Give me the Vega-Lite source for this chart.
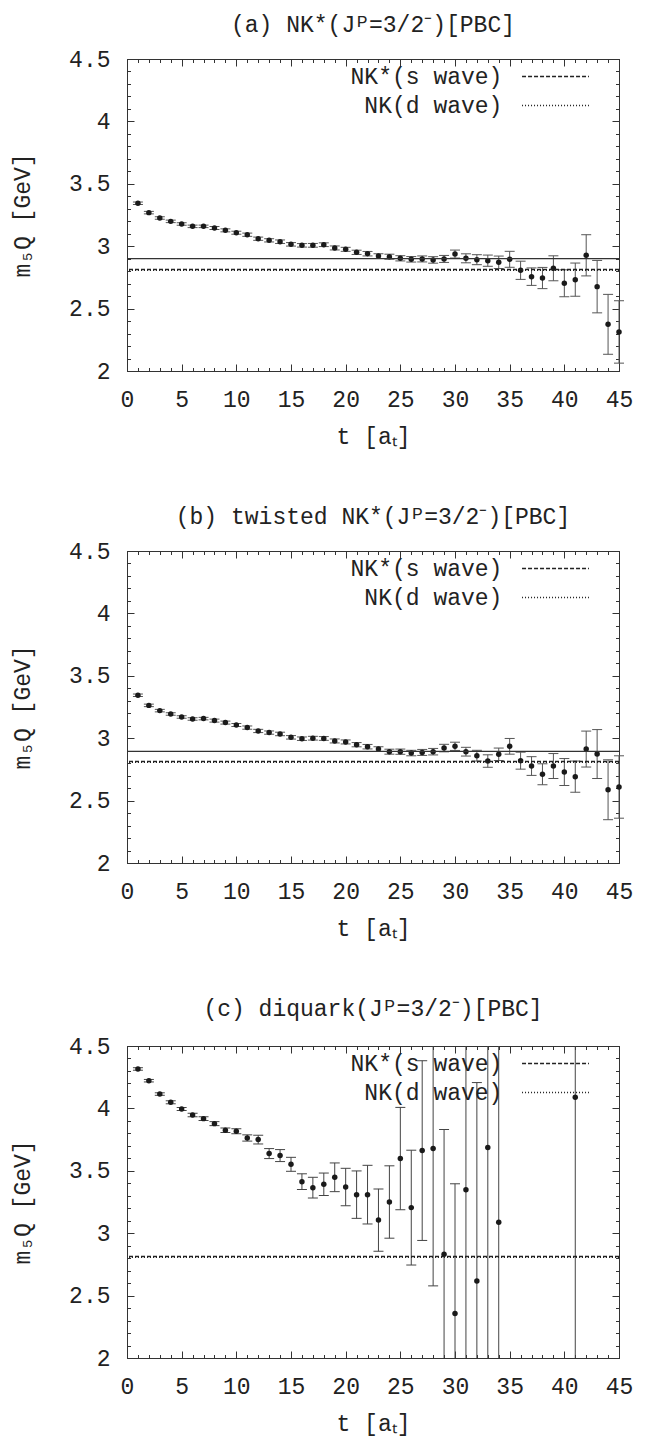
{
  "$schema": "https://vega.github.io/schema/vega-lite/v6.json",
  "padding": {"left": 11, "top": 13, "right": 5, "bottom": 2},
  "spacing": 56,
  "background": "white",
  "datasets": {
    "a": [
      {"t":1,"m":3.344,"lo":3.334,"hi":3.354},{"t":2,"m":3.269,"lo":3.259,"hi":3.279},{"t":3,"m":3.226,"lo":3.216,"hi":3.236},
      {"t":4,"m":3.199,"lo":3.189,"hi":3.209},{"t":5,"m":3.178,"lo":3.168,"hi":3.188},{"t":6,"m":3.159,"lo":3.149,"hi":3.169},
      {"t":7,"m":3.159,"lo":3.149,"hi":3.169},{"t":8,"m":3.146,"lo":3.134,"hi":3.158},{"t":9,"m":3.127,"lo":3.115,"hi":3.139},
      {"t":10,"m":3.108,"lo":3.096,"hi":3.120},{"t":11,"m":3.092,"lo":3.079,"hi":3.105},{"t":12,"m":3.060,"lo":3.047,"hi":3.073},
      {"t":13,"m":3.047,"lo":3.034,"hi":3.060},{"t":14,"m":3.036,"lo":3.022,"hi":3.050},{"t":15,"m":3.015,"lo":3.001,"hi":3.029},
      {"t":16,"m":3.007,"lo":2.993,"hi":3.021},{"t":17,"m":3.007,"lo":2.992,"hi":3.022},{"t":18,"m":3.012,"lo":2.997,"hi":3.027},
      {"t":19,"m":2.986,"lo":2.970,"hi":3.002},{"t":20,"m":2.975,"lo":2.959,"hi":2.991},{"t":21,"m":2.951,"lo":2.934,"hi":2.968},
      {"t":22,"m":2.940,"lo":2.922,"hi":2.958},{"t":23,"m":2.921,"lo":2.902,"hi":2.940},{"t":24,"m":2.916,"lo":2.896,"hi":2.936},
      {"t":25,"m":2.903,"lo":2.882,"hi":2.924},{"t":26,"m":2.895,"lo":2.873,"hi":2.917},{"t":27,"m":2.898,"lo":2.874,"hi":2.922},
      {"t":28,"m":2.890,"lo":2.864,"hi":2.916},{"t":29,"m":2.898,"lo":2.870,"hi":2.926},{"t":30,"m":2.937,"lo":2.905,"hi":2.969},
      {"t":31,"m":2.903,"lo":2.867,"hi":2.939},{"t":32,"m":2.892,"lo":2.852,"hi":2.932},{"t":33,"m":2.884,"lo":2.839,"hi":2.929},
      {"t":34,"m":2.871,"lo":2.821,"hi":2.921},{"t":35,"m":2.895,"lo":2.831,"hi":2.959},{"t":36,"m":2.807,"lo":2.734,"hi":2.880},
      {"t":37,"m":2.756,"lo":2.686,"hi":2.826},{"t":38,"m":2.745,"lo":2.660,"hi":2.830},{"t":39,"m":2.823,"lo":2.723,"hi":2.923},
      {"t":40,"m":2.703,"lo":2.595,"hi":2.811},{"t":41,"m":2.732,"lo":2.599,"hi":2.865},{"t":42,"m":2.927,"lo":2.762,"hi":3.092},
      {"t":43,"m":2.676,"lo":2.466,"hi":2.886},{"t":44,"m":2.374,"lo":2.134,"hi":2.614},{"t":45,"m":2.313,"lo":2.063,"hi":2.563}
    ],
    "b": [
      {"t":1,"m":3.344,"lo":3.334,"hi":3.354},{"t":2,"m":3.263,"lo":3.253,"hi":3.273},{"t":3,"m":3.221,"lo":3.211,"hi":3.231},
      {"t":4,"m":3.194,"lo":3.184,"hi":3.204},{"t":5,"m":3.170,"lo":3.160,"hi":3.180},{"t":6,"m":3.154,"lo":3.144,"hi":3.164},
      {"t":7,"m":3.157,"lo":3.147,"hi":3.167},{"t":8,"m":3.141,"lo":3.129,"hi":3.153},{"t":9,"m":3.125,"lo":3.113,"hi":3.137},
      {"t":10,"m":3.106,"lo":3.094,"hi":3.118},{"t":11,"m":3.085,"lo":3.072,"hi":3.098},{"t":12,"m":3.058,"lo":3.045,"hi":3.071},
      {"t":13,"m":3.045,"lo":3.032,"hi":3.058},{"t":14,"m":3.034,"lo":3.020,"hi":3.048},{"t":15,"m":3.007,"lo":2.993,"hi":3.021},
      {"t":16,"m":2.996,"lo":2.982,"hi":3.010},{"t":17,"m":3.000,"lo":2.985,"hi":3.015},{"t":18,"m":2.998,"lo":2.983,"hi":3.013},
      {"t":19,"m":2.978,"lo":2.962,"hi":2.994},{"t":20,"m":2.970,"lo":2.954,"hi":2.986},{"t":21,"m":2.948,"lo":2.931,"hi":2.965},
      {"t":22,"m":2.932,"lo":2.914,"hi":2.950},{"t":23,"m":2.913,"lo":2.894,"hi":2.932},{"t":24,"m":2.892,"lo":2.872,"hi":2.912},
      {"t":25,"m":2.892,"lo":2.871,"hi":2.913},{"t":26,"m":2.881,"lo":2.859,"hi":2.903},{"t":27,"m":2.886,"lo":2.862,"hi":2.910},
      {"t":28,"m":2.892,"lo":2.866,"hi":2.918},{"t":29,"m":2.921,"lo":2.891,"hi":2.951},{"t":30,"m":2.935,"lo":2.902,"hi":2.968},
      {"t":31,"m":2.892,"lo":2.857,"hi":2.927},{"t":32,"m":2.860,"lo":2.817,"hi":2.903},{"t":33,"m":2.817,"lo":2.767,"hi":2.867},
      {"t":34,"m":2.871,"lo":2.821,"hi":2.921},{"t":35,"m":2.935,"lo":2.872,"hi":2.998},{"t":36,"m":2.820,"lo":2.752,"hi":2.888},
      {"t":37,"m":2.777,"lo":2.702,"hi":2.852},{"t":38,"m":2.711,"lo":2.627,"hi":2.795},{"t":39,"m":2.777,"lo":2.677,"hi":2.877},
      {"t":40,"m":2.729,"lo":2.621,"hi":2.837},{"t":41,"m":2.692,"lo":2.567,"hi":2.817},{"t":42,"m":2.913,"lo":2.769,"hi":3.057},
      {"t":43,"m":2.873,"lo":2.677,"hi":3.069},{"t":44,"m":2.587,"lo":2.347,"hi":2.827},{"t":45,"m":2.609,"lo":2.359,"hi":2.859}
    ],
    "c": [
      {"t":1,"m":4.316,"lo":4.306,"hi":4.326},{"t":2,"m":4.222,"lo":4.212,"hi":4.232},{"t":3,"m":4.115,"lo":4.105,"hi":4.125},
      {"t":4,"m":4.049,"lo":4.037,"hi":4.061},{"t":5,"m":3.995,"lo":3.983,"hi":4.007},{"t":6,"m":3.947,"lo":3.933,"hi":3.961},
      {"t":7,"m":3.918,"lo":3.903,"hi":3.933},{"t":8,"m":3.878,"lo":3.862,"hi":3.894},{"t":9,"m":3.825,"lo":3.807,"hi":3.843},
      {"t":10,"m":3.817,"lo":3.797,"hi":3.837},{"t":11,"m":3.763,"lo":3.738,"hi":3.788},{"t":12,"m":3.750,"lo":3.715,"hi":3.785},
      {"t":13,"m":3.638,"lo":3.598,"hi":3.678},{"t":14,"m":3.622,"lo":3.574,"hi":3.670},{"t":15,"m":3.552,"lo":3.496,"hi":3.608},
      {"t":16,"m":3.413,"lo":3.350,"hi":3.476},{"t":17,"m":3.365,"lo":3.282,"hi":3.448},{"t":18,"m":3.392,"lo":3.302,"hi":3.482},
      {"t":19,"m":3.448,"lo":3.333,"hi":3.563},{"t":20,"m":3.370,"lo":3.220,"hi":3.520},{"t":21,"m":3.309,"lo":3.119,"hi":3.499},
      {"t":22,"m":3.309,"lo":3.074,"hi":3.544},{"t":23,"m":3.105,"lo":2.855,"hi":3.355},{"t":24,"m":3.250,"lo":2.960,"hi":3.540},
      {"t":25,"m":3.598,"lo":3.188,"hi":4.008},{"t":26,"m":3.205,"lo":2.745,"hi":3.665},{"t":27,"m":3.662,"lo":2.942,"hi":4.382},
      {"t":28,"m":3.678,"lo":2.578,"hi":4.778},{"t":29,"m":2.831,"lo":1.831,"hi":3.831},{"t":30,"m":2.356,"lo":1.316,"hi":3.396},
      {"t":31,"m":3.349,"lo":1.749,"hi":4.949},{"t":32,"m":2.617,"lo":1.027,"hi":4.207},{"t":33,"m":3.686,"lo":1.886,"hi":5.486},
      {"t":34,"m":3.087,"lo":1.487,"hi":4.687},{"t":41,"m":4.089,"lo":1.589,"hi":6.589}
    ],
    "refs": [
      {"panel":"a","name":"NK*(s wave)","m":2.813},{"panel":"a","name":"NK(d wave)","m":2.807},
      {"panel":"b","name":"NK*(s wave)","m":2.813},{"panel":"b","name":"NK(d wave)","m":2.807},
      {"panel":"c","name":"NK*(s wave)","m":2.813},{"panel":"c","name":"NK(d wave)","m":2.807}
    ],
    "fits": [
      {"panel":"a","m":2.900},{"panel":"b","m":2.895}
    ]
  },
  "resolve": {"legend": {"strokeDash": "independent"}, "scale": {"strokeDash": "independent"}},
  "vconcat": [
    {
      "width": 492, "height": 312,
      "title": {"text": "(a) NK*(Jᴾ=3/2⁻)[PBC]", "offset": 11},
      "data": {"name": "a"},
      "resolve": {"axis": {"x": "independent", "y": "independent"}},
      "layer": [
        {"mark": {"type": "rule", "color": "#555", "strokeWidth": 1},
         "encoding": {
           "x": {"field": "t", "type": "quantitative", "scale": {"domain": [0,45], "nice": false}, "axis": {"orient": "top", "values": [0,5,10,15,20,25,30,35,40,45], "tickSize": -7, "labels": false, "title": null}},
           "y": {"field": "lo", "type": "quantitative", "scale": {"domain": [2,4.5], "nice": false, "zero": false}, "axis": {"orient": "right", "values": [2,2.5,3,3.5,4,4.5], "tickSize": -7, "labels": false, "title": null}},
           "y2": {"field": "hi"}}},
        {"mark": {"type": "tick", "orient": "horizontal", "size": 10, "thickness": 1, "color": "#555", "opacity": 1},
         "encoding": {
           "x": {"field": "t", "type": "quantitative", "axis": {"orient": "top", "values": [0,1,2,3,4,5,6,7,8,9,10,11,12,13,14,15,16,17,18,19,20,21,22,23,24,25,26,27,28,29,30,31,32,33,34,35,36,37,38,39,40,41,42,43,44,45], "tickSize": -3.5, "labels": false, "title": null}},
           "y": {"field": "hi", "type": "quantitative", "axis": {"orient": "right", "values": [2,2.1,2.2,2.3,2.4,2.5,2.6,2.7,2.8,2.9,3,3.1,3.2,3.3,3.4,3.5,3.6,3.7,3.8,3.9,4,4.1,4.2,4.3,4.4,4.5], "tickSize": -3.5, "labels": false, "title": null}}}},
        {"mark": {"type": "tick", "orient": "horizontal", "size": 10, "thickness": 1, "color": "#555", "opacity": 1},
         "encoding": {
           "x": {"field": "t", "type": "quantitative", "axis": {"orient": "bottom", "values": [0,1,2,3,4,5,6,7,8,9,10,11,12,13,14,15,16,17,18,19,20,21,22,23,24,25,26,27,28,29,30,31,32,33,34,35,36,37,38,39,40,41,42,43,44,45], "tickSize": -3.5, "labels": false, "title": null}},
           "y": {"field": "lo", "type": "quantitative", "axis": {"orient": "left", "values": [2,2.1,2.2,2.3,2.4,2.5,2.6,2.7,2.8,2.9,3,3.1,3.2,3.3,3.4,3.5,3.6,3.7,3.8,3.9,4,4.1,4.2,4.3,4.4,4.5], "tickSize": -3.5, "labels": false, "title": null}}}},
        {"mark": {"type": "point", "filled": true, "shape": "circle", "size": 30, "color": "#1a1a1a", "opacity": 1},
         "encoding": {
           "x": {"field": "t", "type": "quantitative", "axis": {"orient": "bottom", "values": [0,5,10,15,20,25,30,35,40,45], "tickSize": -7, "labelPadding": 24, "title": "t [aₜ]", "titlePadding": 14}},
           "y": {"field": "m", "type": "quantitative", "axis": {"orient": "left", "values": [2,2.5,3,3.5,4,4.5], "format": "~g", "tickSize": -7, "labelPadding": 24, "title": "m₅Q  [GeV]", "titlePadding": 34}}}},
        {"data": {"name": "fits"}, "transform": [{"filter": {"field": "panel", "equal": "a"}}],
         "mark": {"type": "rule", "color": "#333", "strokeWidth": 1.2},
         "encoding": {"y": {"field": "m", "type": "quantitative", "axis": null}}},
        {"data": {"name": "refs"}, "transform": [{"filter": {"field": "panel", "equal": "a"}}],
         "mark": {"type": "rule", "color": "#222", "strokeWidth": 1.5},
         "encoding": {
           "y": {"field": "m", "type": "quantitative", "axis": null},
           "strokeDash": {"field": "name", "type": "nominal", "scale": {"domain": ["NK*(s wave)", "NK(d wave)"], "range": [[4,2],[1,2]]}}}}
      ]
    },
    {
      "width": 492, "height": 312,
      "title": {"text": "(b) twisted NK*(Jᴾ=3/2⁻)[PBC]", "offset": 11},
      "data": {"name": "b"},
      "resolve": {"axis": {"x": "independent", "y": "independent"}},
      "layer": [
        {"mark": {"type": "rule", "color": "#555", "strokeWidth": 1},
         "encoding": {
           "x": {"field": "t", "type": "quantitative", "scale": {"domain": [0,45], "nice": false}, "axis": {"orient": "top", "values": [0,5,10,15,20,25,30,35,40,45], "tickSize": -7, "labels": false, "title": null}},
           "y": {"field": "lo", "type": "quantitative", "scale": {"domain": [2,4.5], "nice": false, "zero": false}, "axis": {"orient": "right", "values": [2,2.5,3,3.5,4,4.5], "tickSize": -7, "labels": false, "title": null}},
           "y2": {"field": "hi"}}},
        {"mark": {"type": "tick", "orient": "horizontal", "size": 10, "thickness": 1, "color": "#555", "opacity": 1},
         "encoding": {
           "x": {"field": "t", "type": "quantitative", "axis": {"orient": "top", "values": [0,1,2,3,4,5,6,7,8,9,10,11,12,13,14,15,16,17,18,19,20,21,22,23,24,25,26,27,28,29,30,31,32,33,34,35,36,37,38,39,40,41,42,43,44,45], "tickSize": -3.5, "labels": false, "title": null}},
           "y": {"field": "hi", "type": "quantitative", "axis": {"orient": "right", "values": [2,2.1,2.2,2.3,2.4,2.5,2.6,2.7,2.8,2.9,3,3.1,3.2,3.3,3.4,3.5,3.6,3.7,3.8,3.9,4,4.1,4.2,4.3,4.4,4.5], "tickSize": -3.5, "labels": false, "title": null}}}},
        {"mark": {"type": "tick", "orient": "horizontal", "size": 10, "thickness": 1, "color": "#555", "opacity": 1},
         "encoding": {
           "x": {"field": "t", "type": "quantitative", "axis": {"orient": "bottom", "values": [0,1,2,3,4,5,6,7,8,9,10,11,12,13,14,15,16,17,18,19,20,21,22,23,24,25,26,27,28,29,30,31,32,33,34,35,36,37,38,39,40,41,42,43,44,45], "tickSize": -3.5, "labels": false, "title": null}},
           "y": {"field": "lo", "type": "quantitative", "axis": {"orient": "left", "values": [2,2.1,2.2,2.3,2.4,2.5,2.6,2.7,2.8,2.9,3,3.1,3.2,3.3,3.4,3.5,3.6,3.7,3.8,3.9,4,4.1,4.2,4.3,4.4,4.5], "tickSize": -3.5, "labels": false, "title": null}}}},
        {"mark": {"type": "point", "filled": true, "shape": "circle", "size": 30, "color": "#1a1a1a", "opacity": 1},
         "encoding": {
           "x": {"field": "t", "type": "quantitative", "axis": {"orient": "bottom", "values": [0,5,10,15,20,25,30,35,40,45], "tickSize": -7, "labelPadding": 24, "title": "t [aₜ]", "titlePadding": 14}},
           "y": {"field": "m", "type": "quantitative", "axis": {"orient": "left", "values": [2,2.5,3,3.5,4,4.5], "format": "~g", "tickSize": -7, "labelPadding": 24, "title": "m₅Q  [GeV]", "titlePadding": 34}}}},
        {"data": {"name": "fits"}, "transform": [{"filter": {"field": "panel", "equal": "b"}}],
         "mark": {"type": "rule", "color": "#333", "strokeWidth": 1.2},
         "encoding": {"y": {"field": "m", "type": "quantitative", "axis": null}}},
        {"data": {"name": "refs"}, "transform": [{"filter": {"field": "panel", "equal": "b"}}],
         "mark": {"type": "rule", "color": "#222", "strokeWidth": 1.5},
         "encoding": {
           "y": {"field": "m", "type": "quantitative", "axis": null},
           "strokeDash": {"field": "name", "type": "nominal", "scale": {"domain": ["NK*(s wave)", "NK(d wave)"], "range": [[4,2],[1,2]]}}}}
      ]
    },
    {
      "width": 492, "height": 312,
      "title": {"text": "(c) diquark(Jᴾ=3/2⁻)[PBC]", "offset": 14},
      "data": {"name": "c"},
      "resolve": {"axis": {"x": "independent", "y": "independent"}},
      "layer": [
        {"mark": {"type": "rule", "color": "#444", "strokeWidth": 1, "clip": true},
         "encoding": {
           "x": {"field": "t", "type": "quantitative", "scale": {"domain": [0,45], "nice": false}, "axis": {"orient": "top", "values": [0,5,10,15,20,25,30,35,40,45], "tickSize": -7, "labels": false, "title": null}},
           "y": {"field": "lo", "type": "quantitative", "scale": {"domain": [2,4.5], "nice": false, "zero": false}, "axis": {"orient": "right", "values": [2,2.5,3,3.5,4,4.5], "tickSize": -7, "labels": false, "title": null}},
           "y2": {"field": "hi"}}},
        {"mark": {"type": "tick", "orient": "horizontal", "size": 10, "thickness": 1, "color": "#444", "opacity": 1, "clip": true},
         "encoding": {
           "x": {"field": "t", "type": "quantitative", "axis": {"orient": "top", "values": [0,1,2,3,4,5,6,7,8,9,10,11,12,13,14,15,16,17,18,19,20,21,22,23,24,25,26,27,28,29,30,31,32,33,34,35,36,37,38,39,40,41,42,43,44,45], "tickSize": -3.5, "labels": false, "title": null}},
           "y": {"field": "hi", "type": "quantitative", "axis": {"orient": "right", "values": [2,2.1,2.2,2.3,2.4,2.5,2.6,2.7,2.8,2.9,3,3.1,3.2,3.3,3.4,3.5,3.6,3.7,3.8,3.9,4,4.1,4.2,4.3,4.4,4.5], "tickSize": -3.5, "labels": false, "title": null}}}},
        {"mark": {"type": "tick", "orient": "horizontal", "size": 10, "thickness": 1, "color": "#444", "opacity": 1, "clip": true},
         "encoding": {
           "x": {"field": "t", "type": "quantitative", "axis": {"orient": "bottom", "values": [0,1,2,3,4,5,6,7,8,9,10,11,12,13,14,15,16,17,18,19,20,21,22,23,24,25,26,27,28,29,30,31,32,33,34,35,36,37,38,39,40,41,42,43,44,45], "tickSize": -3.5, "labels": false, "title": null}},
           "y": {"field": "lo", "type": "quantitative", "axis": {"orient": "left", "values": [2,2.1,2.2,2.3,2.4,2.5,2.6,2.7,2.8,2.9,3,3.1,3.2,3.3,3.4,3.5,3.6,3.7,3.8,3.9,4,4.1,4.2,4.3,4.4,4.5], "tickSize": -3.5, "labels": false, "title": null}}}},
        {"mark": {"type": "point", "filled": true, "shape": "circle", "size": 30, "color": "#1a1a1a", "opacity": 1},
         "encoding": {
           "x": {"field": "t", "type": "quantitative", "axis": {"orient": "bottom", "values": [0,5,10,15,20,25,30,35,40,45], "tickSize": -7, "labelPadding": 24, "title": "t [aₜ]", "titlePadding": 14}},
           "y": {"field": "m", "type": "quantitative", "axis": {"orient": "left", "values": [2,2.5,3,3.5,4,4.5], "format": "~g", "tickSize": -7, "labelPadding": 24, "title": "m₅Q  [GeV]", "titlePadding": 34}}}},
        {"data": {"name": "refs"}, "transform": [{"filter": {"field": "panel", "equal": "c"}}],
         "mark": {"type": "rule", "color": "#222", "strokeWidth": 1.5},
         "encoding": {
           "y": {"field": "m", "type": "quantitative", "axis": null},
           "strokeDash": {"field": "name", "type": "nominal", "scale": {"domain": ["NK*(s wave)", "NK(d wave)"], "range": [[4,2],[1,2]]}}}}
      ]
    }
  ],
  "config": {
    "font": "Liberation Mono",
    "view": {"stroke": "#333", "strokeWidth": 1},
    "title": {"font": "Liberation Mono", "fontSize": 23, "fontWeight": "normal", "color": "#222", "anchor": "middle", "frame": "group"},
    "axis": {"labelFont": "Liberation Mono", "titleFont": "Liberation Mono", "labelFontSize": 23, "titleFontSize": 23, "titleFontWeight": "normal", "labelColor": "#222", "titleColor": "#222", "tickColor": "#333", "tickWidth": 1, "domain": false, "grid": false, "labelFlush": false, "labelOverlap": false},
    "legend": {"title": null, "orient": "none", "legendX": 417, "legendY": 6, "padding": 0, "symbolType": "M-4,0H4", "symbolSize": 280, "symbolStrokeWidth": 1.5, "symbolStrokeColor": "#222", "labelAlign": "right", "labelOffset": -64.6, "labelFont": "Liberation Mono", "labelFontSize": 23, "labelColor": "#222", "rowPadding": 5, "labelLimit": 400}
  }
}
